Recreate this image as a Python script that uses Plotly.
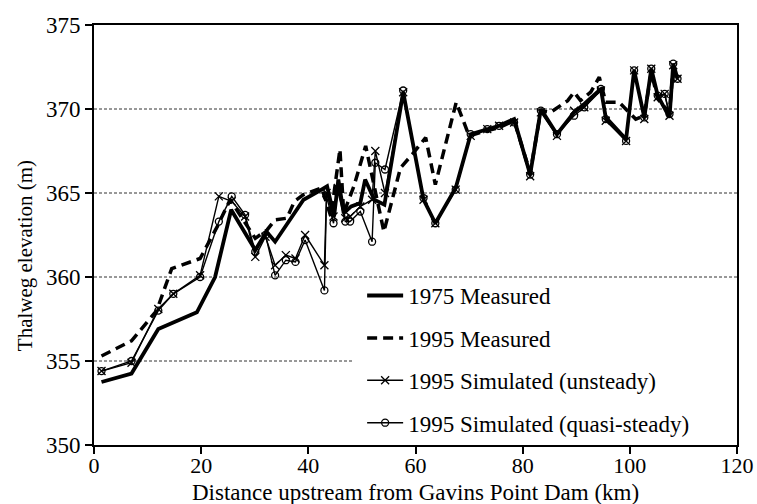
import plotly.graph_objects as go

# 1975 measured thalweg profile
km_1975 = [1.4, 7.0, 12.0, 14.2, 19.2, 22.6, 25.6, 30.1, 32.2, 33.8,
           39.1, 41.9, 43.5, 44.8, 45.6, 46.6, 48.0, 49.7, 50.6, 52.3,
           54.2, 57.7, 61.5, 63.7, 67.5, 70.3, 73.4, 75.6, 78.4, 81.4,
           83.4, 86.4, 89.6, 91.5, 94.6, 95.5, 99.3, 100.8, 102.7, 104.0,
           105.2, 107.4, 108.1, 108.9]
elev_1975 = [353.75, 354.25, 356.9, 357.2, 357.9, 360.0, 364.0, 361.6, 362.7, 362.1,
             364.6, 365.1, 365.4, 363.6, 365.8, 363.8, 364.2, 364.4, 365.8, 364.6,
             364.3, 371.0, 364.6, 363.2, 365.3, 368.5, 368.8, 369.0, 369.4, 366.1,
             370.0, 368.5, 369.8, 370.3, 371.2, 369.5, 368.2, 372.3, 369.5, 372.4,
             370.8, 369.5, 372.7, 371.8]

# 1995 measured thalweg profile
km_1995 = [1.4, 7.0, 11.7, 14.5, 19.8, 23.0, 25.4, 30.1, 32.3, 33.8,
           36.0, 37.4, 39.1, 42.5, 44.2, 45.9, 46.6, 48.5, 50.7, 54.1,
           57.2, 59.4, 61.9, 63.7, 67.6, 70.0, 72.1, 75.6, 78.4, 81.4,
           83.4, 85.2, 88.4, 89.6, 90.8, 92.7, 94.3, 95.5, 98.0, 101.1,
           102.7, 104.0, 105.2, 107.4, 108.1]
elev_1995 = [355.3, 356.2, 358.0, 360.5, 361.1, 363.0, 364.6, 362.3, 362.8, 363.4,
             363.5, 364.5, 364.9, 365.3, 363.6, 367.6, 363.8, 365.4, 367.8, 362.7,
             366.5, 367.3, 368.3, 365.5, 370.4, 368.4, 368.6, 368.9, 369.3, 366.2,
             369.9, 369.8, 370.5, 371.0, 370.5, 371.0, 371.9, 370.4, 370.4, 369.4,
             369.6, 372.2, 370.6, 369.8, 372.5]

# Simulated 1995 profiles (shared cross-section stations)
km_sim = [1.4, 7.0, 12.0, 14.8, 19.8, 23.3, 25.7, 28.2, 30.1, 32.0,
          33.8, 35.8, 37.6, 39.4, 43.0, 43.4, 44.7, 45.5, 46.9, 47.8,
          49.7, 51.9, 52.5, 54.3, 57.7, 61.5, 63.7, 67.5, 70.3, 73.4,
          75.6, 78.4, 81.4, 83.4, 86.4, 89.6, 91.5, 94.6, 95.5, 99.3,
          100.8, 102.7, 104.0, 105.2, 106.5, 107.4, 108.1, 108.9]
elev_unsteady = [354.4, 354.9, 358.1, 359.0, 360.1, 364.8, 364.5, 363.6, 361.2, 362.4,
                 360.7, 361.3, 361.1, 362.5, 360.7, 365.0, 363.6, 365.3, 363.5, 363.6,
                 364.2, 364.6, 367.5, 365.0, 371.0, 364.6, 363.2, 365.2, 368.4, 368.8,
                 369.0, 369.2, 366.0, 369.8, 368.4, 369.9, 370.1, 371.1, 369.3, 368.1,
                 372.3, 369.4, 372.4, 370.7, 370.9, 369.6, 372.6, 371.8]
elev_quasi = [354.4, 355.0, 358.0, 359.0, 360.0, 363.3, 364.8, 363.7, 361.5, 362.5,
              360.1, 361.0, 360.9, 362.2, 359.2, 364.8, 363.2, 365.1, 363.3, 363.3,
              363.9, 362.1, 366.8, 366.4, 371.1, 364.7, 363.2, 365.2, 368.5, 368.8,
              369.0, 369.2, 366.1, 369.9, 368.5, 369.6, 370.1, 371.2, 369.4, 368.1,
              372.3, 369.5, 372.4, 370.8, 370.9, 369.7, 372.7, 371.8]

series_names = ["1975 Measured", "1995 Measured",
                "1995 Simulated (unsteady)", "1995 Simulated (quasi-steady)"]

x_ticks = [0, 20, 40, 60, 80, 100, 120]
y_ticks = [350, 355, 360, 365, 370, 375]
full_grid = [360, 365, 370]
short_grid = 355
short_grid_end = 48.5

FONT = "Liberation Serif"

fig = go.Figure()

fig.add_trace(go.Scatter(
    x=km_1975, y=elev_1975, name=series_names[0], mode="lines",
    line=dict(color="black", width=3.8), legendgroup="a"))
fig.add_trace(go.Scatter(
    x=km_1995, y=elev_1995, name=series_names[1], mode="lines",
    line=dict(color="black", width=3.5, dash="10px,6px"), legendgroup="b"))
fig.add_trace(go.Scatter(
    x=km_sim, y=elev_unsteady, name=series_names[2], mode="lines+markers",
    line=dict(color="black", width=1.4),
    marker=dict(symbol="x-thin", size=8, color="black",
                line=dict(color="black", width=1.3)),
    legendgroup="c"))
fig.add_trace(go.Scatter(
    x=km_sim, y=elev_quasi, name=series_names[3], mode="lines+markers",
    line=dict(color="black", width=1.4),
    marker=dict(symbol="circle-open", size=7, color="black",
                line=dict(color="black", width=1.3)),
    legendgroup="d"))

# dashed horizontal reference lines
for lvl in full_grid:
    fig.add_shape(type="line", xref="x", yref="y", x0=0, x1=120, y0=lvl, y1=lvl,
                  line=dict(color="#333333", width=1, dash="3px,2px"), layer="below")
fig.add_shape(type="line", xref="x", yref="y", x0=0, x1=short_grid_end,
              y0=short_grid, y1=short_grid,
              line=dict(color="#333333", width=1, dash="3px,2px"), layer="below")

fig.add_annotation(
    text="Thalweg elevation (m)", textangle=-90, showarrow=False,
    xref="paper", yref="paper", x=-0.107, y=0.45, xanchor="center", yanchor="middle",
    font=dict(family=FONT, size=21, color="black"))

fig.add_annotation(
    text="Distance upstream from Gavins Point Dam (km)", showarrow=False,
    xref="paper", yref="paper", x=0.5, y=-0.113, xanchor="center", yanchor="middle",
    font=dict(family=FONT, size=23, color="black"))

fig.update_layout(
    width=757, height=504,
    margin=dict(l=94, r=20, t=25, b=59),
    paper_bgcolor="white", plot_bgcolor="white",
    font=dict(family=FONT, size=23, color="black"),
    showlegend=True,
    legend=dict(x=0.417, y=0.407, xanchor="left", yanchor="top",
                bgcolor="rgba(0,0,0,0)", borderwidth=0,
                font=dict(family=FONT, size=23, color="black"),
                tracegroupgap=9.5, itemwidth=36),
    xaxis=dict(range=[0, 120], tickvals=x_ticks, ticks="outside", ticklen=7,
               tickwidth=1.5, tickcolor="black", showline=True, linecolor="black",
               linewidth=2, mirror=True, showgrid=False, zeroline=False,
               automargin=False, ticklabelstandoff=-7,
               tickfont=dict(family=FONT, size=22)),
    yaxis=dict(range=[350, 375], tickvals=y_ticks, ticks="outside", ticklen=7,
               tickwidth=1.5, tickcolor="black", showline=True, linecolor="black",
               linewidth=2, mirror=True, showgrid=False, zeroline=False,
               automargin=False, tickfont=dict(family=FONT, size=23)),
)

fig.write_html("out.html")
